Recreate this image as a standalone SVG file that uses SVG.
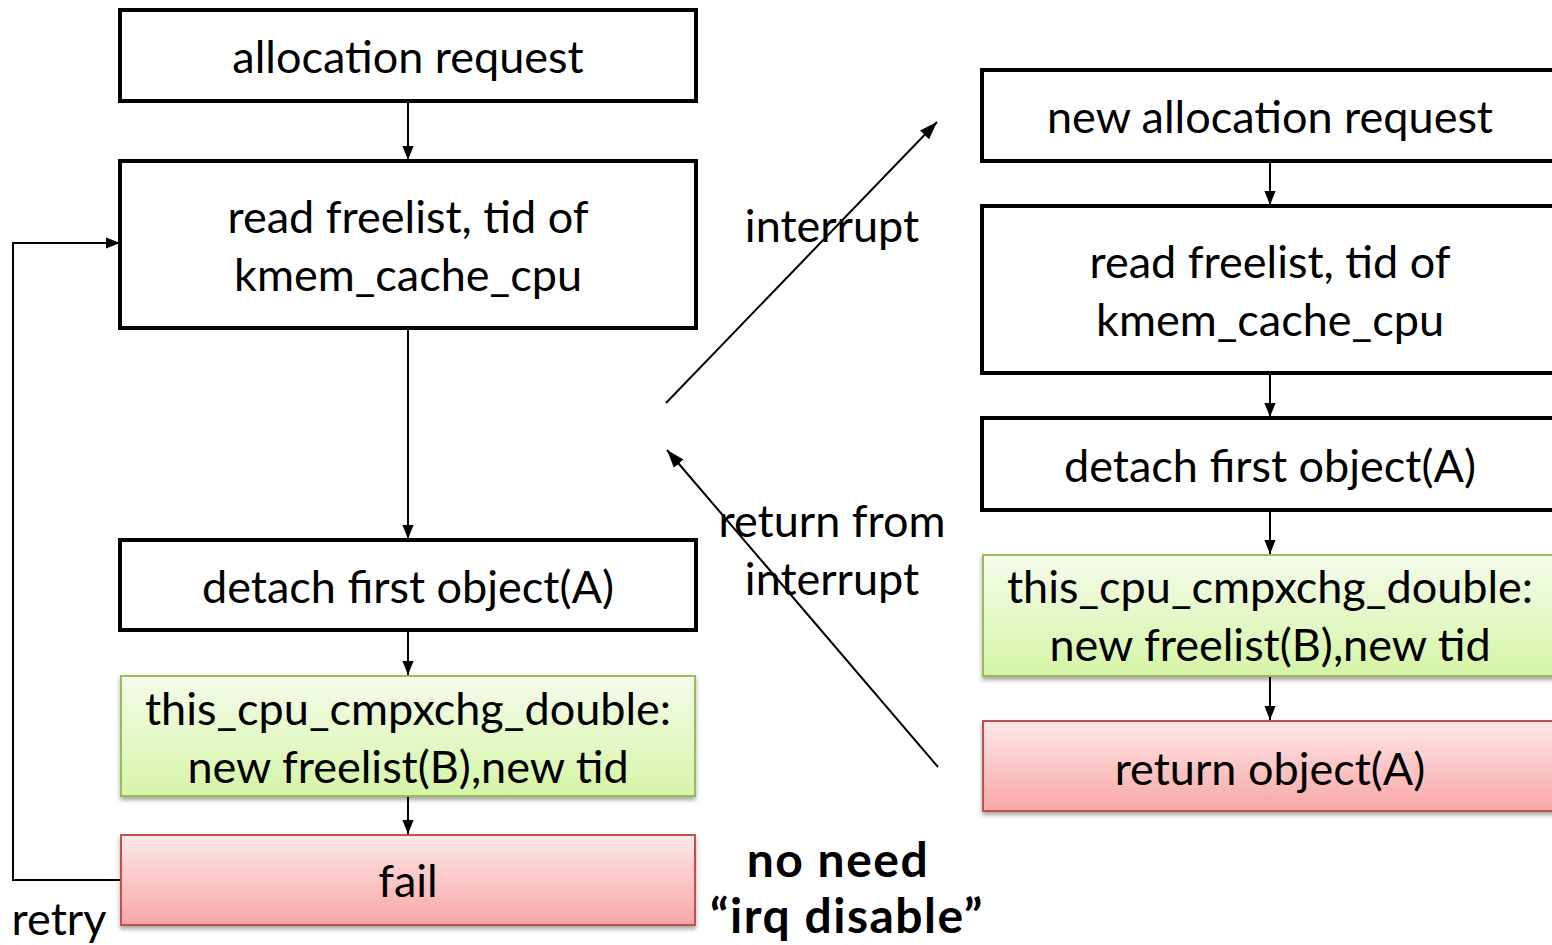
<svg xmlns="http://www.w3.org/2000/svg" width="1552" height="945" viewBox="0 0 1552 945">
<defs>
<linearGradient id="gGreen" x1="0" y1="0" x2="0" y2="1"><stop offset="0" stop-color="#f5fcec"/><stop offset="1" stop-color="#d5f5a6"/></linearGradient>
<linearGradient id="gRed" x1="0" y1="0" x2="0" y2="1"><stop offset="0" stop-color="#fde8e8"/><stop offset="1" stop-color="#f9a6a6"/></linearGradient>
<filter id="sh" x="-5%" y="-10%" width="110%" height="130%"><feDropShadow dx="0" dy="3" stdDeviation="2" flood-color="#000" flood-opacity="0.35"/></filter>
<marker id="ah2" viewBox="0 0 10 10" refX="10" refY="5" markerWidth="14" markerHeight="14" markerUnits="userSpaceOnUse" orient="auto"><path d="M0,1 L10,5 L0,9 z" fill="#000"/></marker>
<marker id="ah3" viewBox="0 0 10 10" refX="10" refY="5" markerWidth="18" markerHeight="18" markerUnits="userSpaceOnUse" orient="auto"><path d="M0,1.5 L10,5 L0,8.5 z" fill="#000"/></marker>
</defs>
<style>
.box{fill:#fff;stroke:#000;stroke-width:4}
.green{fill:url(#gGreen);stroke:#9bbb59;stroke-width:2;filter:url(#sh)}
.red{fill:url(#gRed);stroke:#c0504d;stroke-width:2;filter:url(#sh)}
text{font-family:Lato,"Open Sans","Liberation Sans",sans-serif;font-size:45px;fill:#000}
.c{text-anchor:middle}
.b{font-weight:bold;font-size:48px;letter-spacing:1.5px}
.ln{stroke:#000;stroke-width:2;fill:none}
</style>
<rect width="1552" height="945" fill="#fff"/>
<g id="connectors">
<line class="ln" x1="408" y1="101" x2="408" y2="160" marker-end="url(#ah2)"/>
<line class="ln" x1="408" y1="328" x2="408" y2="539" marker-end="url(#ah2)"/>
<line class="ln" x1="408" y1="630" x2="408" y2="675" marker-end="url(#ah2)"/>
<line class="ln" x1="408" y1="796" x2="408" y2="834" marker-end="url(#ah2)"/>
<polyline class="ln" points="123,880 13,880 13,243 120,243" marker-end="url(#ah2)"/>
<line class="ln" x1="1270" y1="161" x2="1270" y2="205" marker-end="url(#ah2)"/>
<line class="ln" x1="1270" y1="373" x2="1270" y2="417" marker-end="url(#ah2)"/>
<line class="ln" x1="1270" y1="510" x2="1270" y2="554" marker-end="url(#ah2)"/>
<line class="ln" x1="1270" y1="676" x2="1270" y2="720" marker-end="url(#ah2)"/>
<line class="ln" x1="666" y1="403" x2="937" y2="122" marker-end="url(#ah3)"/>
<line class="ln" x1="938" y1="767" x2="667" y2="450" marker-end="url(#ah3)"/>
</g>
<g id="n1"><rect class="box" x="120" y="10" width="576" height="91"/><text class="c" x="408" y="73">allocation request</text></g>
<g id="n2"><rect class="box" x="120" y="161" width="576" height="167"/><text class="c" x="408" y="233">read freelist, tid of</text><text class="c" x="408" y="291">kmem_cache_cpu</text></g>
<g id="n3"><rect class="box" x="120" y="540" width="576" height="90"/><text class="c" x="408" y="603">detach first object(A)</text></g>
<g id="n4"><rect class="green" x="121" y="676" width="574" height="120"/><text class="c" x="408" y="725">this_cpu_cmpxchg_double:</text><text class="c" x="408" y="783">new freelist(B),new tid</text></g>
<g id="n5"><rect class="red" x="121" y="835" width="574" height="90"/><text class="c" x="408" y="897">fail</text></g>
<g id="n6"><rect class="box" x="982" y="70" width="590" height="91"/><text class="c" x="1270" y="133">new allocation request</text></g>
<g id="n7"><rect class="box" x="982" y="206" width="590" height="167"/><text class="c" x="1270" y="278">read freelist, tid of</text><text class="c" x="1270" y="336">kmem_cache_cpu</text></g>
<g id="n8"><rect class="box" x="982" y="418" width="590" height="92"/><text class="c" x="1270" y="482">detach first object(A)</text></g>
<g id="n9"><rect class="green" x="983" y="555" width="590" height="121"/><text class="c" x="1270" y="603">this_cpu_cmpxchg_double:</text><text class="c" x="1270" y="661">new freelist(B),new tid</text></g>
<g id="n10"><rect class="red" x="983" y="721" width="590" height="90"/><text class="c" x="1270" y="785">return object(A)</text></g>
<g id="labels">
<text x="59" y="935" class="c">retry</text>
<text x="832" y="242" class="c">interrupt</text>
<text x="832" y="537" class="c">return from</text>
<text x="832" y="595" class="c">interrupt</text>
<text x="838" y="877" class="c b">no need</text>
<text x="847" y="933" class="c b">“irq disable”</text>
</g>
</svg>
